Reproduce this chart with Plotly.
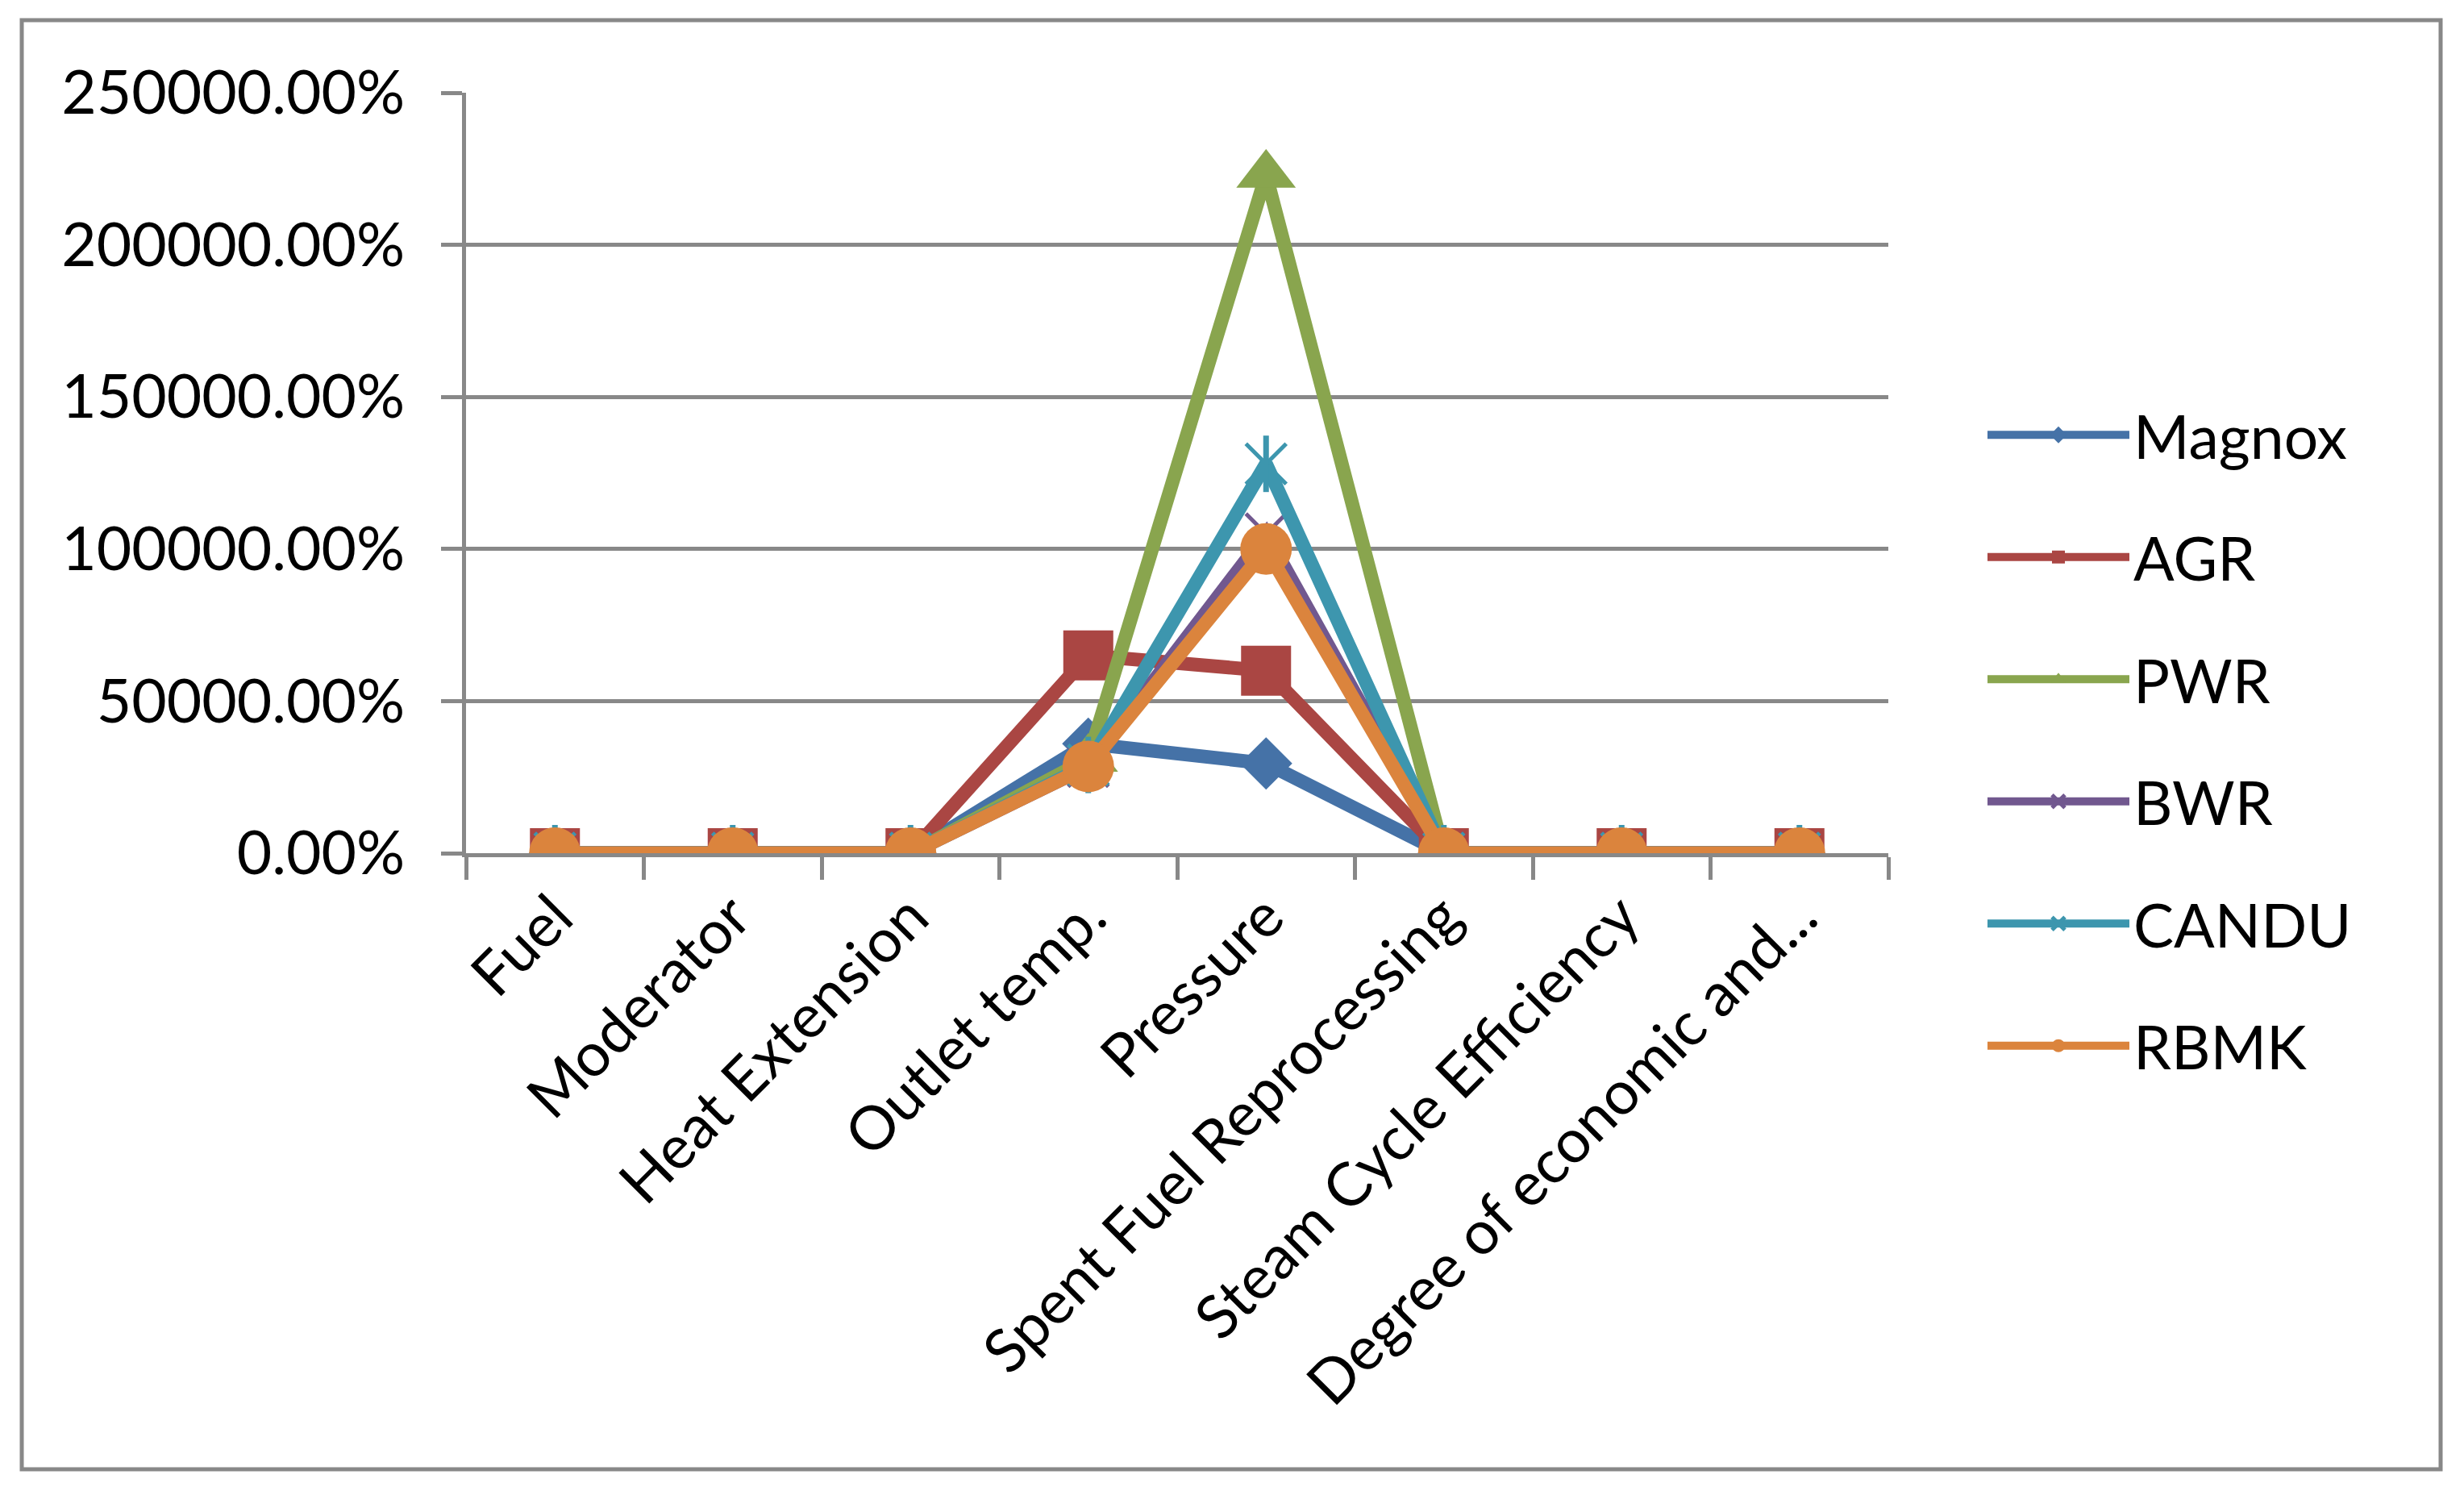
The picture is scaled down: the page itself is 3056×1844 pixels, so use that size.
import plotly.graph_objects as go

categories = ["Fuel", "Moderator", "Heat Extension", "Outlet temp.", "Pressure",
              "Spent Fuel Reprocessing", "Steam Cycle Efficiency", "Degree of economic and..."]

# values as fractions (axis formatted as percent)
magnox = [0, 0, 0, 360, 295, 0, 0, 0]
agr = [0, 0, 0, 650, 600, 0, 0, 0]
pwr = [0, 0, 0, 310, 2230, 0, 0, 0]
bwr = [0, 0, 0, 285, 1050, 0, 0, 0]
candu = [0, 0, 0, 290, 1280, 0, 0, 0]
rbmk = [0, 0, 0, 285, 1000, 0, 0, 0]

names = ["Magnox", "AGR", "PWR", "BWR", "CANDU", "RBMK"]
colors = ["#4572A7", "#AA4643", "#89A54E", "#71588F", "#3D96AE", "#DB843D"]
symbols = ["diamond", "square", "triangle-up", "x-thin", "x-thin", "circle"]
sizes = [50, 62, 64, 50, 50, 64]
series = [magnox, agr, pwr, bwr, candu, rbmk]

FONT = "Lato"
fig = go.Figure()
for name, col, sym, sz, vals in zip(names, colors, symbols, sizes, series):
    fig.add_trace(go.Scatter(
        x=categories, y=vals, name=name, mode="lines+markers",
        legendgroup=name,
        line=dict(color=col, width=17),
        marker=dict(symbol=sym, size=sz, color=col,
                    line=dict(color=col, width=5 if "thin" in sym else 0)),
    ))
    if name == "CANDU":
        fig.add_trace(go.Scatter(
            x=categories, y=vals, mode="markers", showlegend=False,
            legendgroup=name, hoverinfo="skip",
            marker=dict(symbol="line-ns", size=50, color=col,
                        line=dict(color=col, width=7)),
        ))

O = 8  # page offset of the figure inside the browser window
W, H = 3056 - O, 1844 - O
L, R, T, B = 578 - O, 2342 - O, 115 - O, 1058 - O
pw, ph = R - L, B - T

def px(x):
    return (x - O - L) / pw

def py(y):
    return (B - (y - O)) / ph

fig.update_layout(
    width=W, height=H,
    margin=dict(l=L, r=W - R, t=T, b=H - B, pad=0),
    paper_bgcolor="white", plot_bgcolor="white",
    font=dict(family=FONT, size=75, color="black"),
    showlegend=True,
    legend=dict(x=px(2460), y=py(484), xanchor="left", yanchor="top",
                font=dict(family=FONT, size=75, color="black"),
                itemwidth=176, tracegroupgap=51, bgcolor="rgba(0,0,0,0)"),
    xaxis=dict(type="category", tickson="boundaries", ticks="outside", ticklen=28,
               tickwidth=5, tickcolor="#888888", showline=True, linecolor="#888888",
               linewidth=5, showgrid=False, tickangle=-45,
               tickfont=dict(family=FONT, size=75, color="black"),
               range=[-0.5, 7.5]),
    yaxis=dict(range=[0, 2500], dtick=500, tickformat=".2%", ticks="outside",
               ticklen=26, tickwidth=5, tickcolor="#888888", showline=True,
               linecolor="#888888", linewidth=5, showgrid=True, gridcolor="#888888",
               gridwidth=5, zeroline=False, ticklabelstandoff=30,
               tickfont=dict(family=FONT, size=75, color="black")),
    shapes=[dict(type="rect", xref="paper", yref="paper",
                 x0=px(27), x1=px(3027), y0=py(1822), y1=py(25),
                 line=dict(color="#888888", width=5), fillcolor="rgba(0,0,0,0)",
                 layer="below")],
)

fig.write_html("out.html")
